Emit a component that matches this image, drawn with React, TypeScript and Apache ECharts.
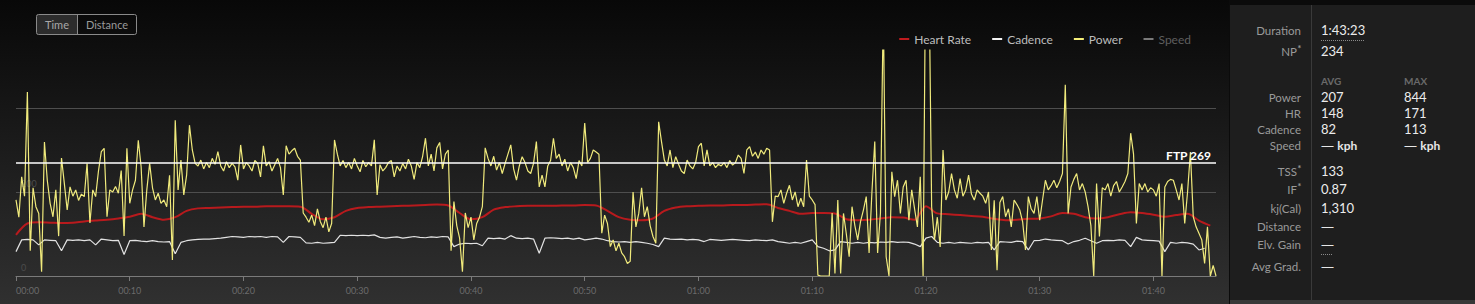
import React, { useEffect, useRef } from 'react';
import * as echarts from 'echarts';

// ---------- data ----------
const POWER_STEP = 0.25; // minutes between power samples
const POWER_W = [
  181,140,236,190, 438,60,210,165, 149,10,319,228, 173,141,205,95, 281,220,157,212,
  190,205,180,195, 189,268,126,205, 189,250,296,304, 141,205,200,213, 197,251,95,304,
  173,205,228,323, 260,117,205,268, 210,181,197,173, 181,165,240,38, 371,205,276,193,
  240,359,300,268, 262,276,255,270, 258,280,266,296, 262,250,272,258, 268,260,228,312,
  255,270,262,250, 275,268,236,310, 262,272,250,265, 280,258,193,310, 290,298,304,285,
  276,150,140,128, 145,120,160,130, 115,140,105,125, 324,290,262,275, 258,270,255,280,
  262,248,275,260, 270,262,324,193, 265,250,258,270, 275,236,262,250, 268,255,278,262,
  230,270,258,285, 328,262,290,250, 305,318,255,290, 300,60,177,120, 90,10,150,115,
  140,86,125,140, 165,305,280,262, 285,252,270,244, 268,290,312,255, 228,262,284,270,
  250,244,268,320, 212,240,212,262, 275,328,280,290, 262,278,250,270, 258,232,275,262,
  364,270,280,300, 295,290,102,145, 125,70,86,60, 78,55,46,30, 35,200,117,149,
  210,141,165,120, 94,78,367,320, 276,262,300,258, 284,266,250,244, 276,262,255,270,
  308,316,262,300, 262,270,258,266, 262,270,258,275, 264,270,288,280, 244,300,308,285,
  295,280,300,290, 304,300,129,190, 189,205,173,197, 216,181,200,165, 185,165,276,190,
  181,170,2,0, 0,0,0,150, 6,181,6,149, 100,46,165,120, 86,130,157,189,
  55,200,320,55, 150,640,46,0, 248,189,228,149, 212,228,133,205, 160,117,236,0,
  844,760,165,86, 140,69,300,181, 200,244,205,185, 232,190,205,240, 195,181,205,197,
  190,173,200,62, 180,14,175,189, 141,160,117,181, 170,157,129,62, 189,160,149,189,
  133,181,228,205, 215,228,210,225, 244,455,149,212, 230,244,205,220, 200,165,120,0,
  220,94,210,205, 220,190,215,225, 200,212,225,244, 340,290,125,220, 205,220,200,210,
  205,190,220,0, 212,225,230,228, 205,181,220,125, 200,295,141,117, 102,86,30,117,
  0,25,0,
];

const HR_STEP = 1;
const HEART_RATE = [
  98,125,128,127,126,127,130,132,134,137,
  141,148,140,134,140,155,161,162,163,164,
  165,165,166,166,166,165,148,135,140,155,
  162,164,165,166,167,168,169,170,168,150,
  135,140,158,164,166,167,167,167,168,168,
  169,168,155,140,134,133,137,155,163,166,
  167,168,168,169,169,170,171,162,155,148,
  150,150,149,135,133,134,137,140,139,134,
  166,149,147,145,143,141,136,133,134,136,
  137,142,150,148,140,137,140,147,152,150,
  146,141,145,148,132,120,
];

const CAD_STEP = 0.5;
const CADENCE = [
  58,86,87,86,74,86,85,84,60,86,
  85,86,84,86,74,88,86,84,85,51,
  84,85,83,82,84,82,81,82,53,80,
  84,86,87,88,88,89,90,92,94,93,
  92,94,93,94,92,94,93,80,94,93,
  92,79,78,80,78,79,80,97,96,97,
  96,97,96,98,92,90,92,93,90,92,
  94,92,91,93,92,94,93,70,76,78,
  77,78,72,90,89,90,88,96,90,89,
  90,88,54,90,91,90,89,90,88,90,
  86,88,90,88,84,82,81,82,80,82,
  80,78,75,70,90,88,87,88,86,87,
  86,82,87,86,85,86,87,86,85,84,
  86,85,84,86,82,80,78,80,78,82,
  86,70,66,60,62,82,80,78,80,78,
  80,79,81,80,82,80,81,80,76,70,
  90,94,80,78,80,78,80,79,78,80,
  79,80,62,82,81,80,83,82,62,84,
  85,88,86,85,84,76,82,85,90,84,
  78,84,85,84,86,85,70,92,86,85,
  84,83,58,80,78,80,79,76,62,66,
];

const FTP = 269;
const X_MAX = 105.5;
const Y_MAX = 538;
const X_TICKS = [0, 10, 20, 30, 40, 50, 60, 70, 80, 90, 100];
const Y_LABELS = [0, 200];
const LEGEND_NAMES = ['Heart Rate', 'Cadence', 'Power', 'Speed'];

const STAT_LABELS = ['Duration', 'NP', 'Power', 'HR', 'Cadence', 'Speed', 'TSS', 'IF', 'kj(Cal)', 'Distance', 'Elv. Gain', 'Avg Grad.'];
const STAT_STARRED = [false, true, false, false, false, false, true, true, false, false, false, false];
const STAT_AVG = ['1:43:23', '234', '207', '148', '82', '{d|—} {b|kph}', '133', '0.87', '1,310', '{d|—}', '{d|—}', '{d|—}'];
const STAT_MAX = ['', '', '844', '171', '113', '{d|—} {b|kph}', '', '', '', '', '', ''];
const STAT_HEAD = ['AVG', 'MAX'];
const TOGGLE = ['Time', 'Distance'];

// ---------- layout (not data) ----------
const ROW_Y = [30, 51, 97, 113, 129, 145, 171, 189, 208, 226, 244, 266];
const FONT = 'Lato, "Open Sans", sans-serif';

function fmtTime(m: number) {
  const h = Math.floor(m / 60);
  const mm = Math.round(m % 60);
  return String(h).padStart(2, '0') + ':' + String(mm).padStart(2, '0');
}

function txt(x: number, y: number, text: string, o: any = {}) {
  const align = o.align || 'left';
  return {
    type: 'text',
    x,
    y,
    z: 100,
    silent: true,
    style: {
      text,
      fill: o.fill || '#e6e6e6',
      fontSize: o.size || 12,
      fontFamily: FONT,
      fontWeight: o.weight || 'normal',
      textAlign: align,
      align,
      textVerticalAlign: 'middle',
      verticalAlign: 'middle',
      rich: o.rich,
    },
  };
}

export default function App() {
  const ref = useRef<HTMLDivElement>(null);

  useEffect(() => {
    const chart = echarts.init(ref.current!, null, { renderer: 'svg' });

    const powerData = POWER_W.map((v, i) => [i * POWER_STEP, v]);
    const hrData = HEART_RATE.map((v, i) => [i * HR_STEP, v]);
    const cadData = CADENCE.map((v, i) => [i * CAD_STEP, v]);

    const elements: any[] = [];
    // backgrounds
    elements.push({ type: 'rect', z: -10, silent: true, shape: { x: 0, y: 0, width: 1475, height: 304 }, style: { fill: '#0b0b0b' } });
    elements.push({
      type: 'rect', z: -9, silent: true,
      shape: { x: 0, y: 0, width: 1229, height: 304 },
      style: {
        fill: { type: 'linear', x: 0, y: 0, x2: 0, y2: 1, colorStops: [
          { offset: 0, color: '#080808' },
          { offset: 1, color: '#303030' },
        ] },
      },
    });
    elements.push({ type: 'rect', z: -9, silent: true, shape: { x: 1230, y: 5, width: 245, height: 296 }, style: { fill: '#1e1e1e' } });
    elements.push({ type: 'rect', z: -9, silent: true, shape: { x: 1230, y: 300, width: 245, height: 4 }, style: { fill: '#383838' } });
    elements.push({ type: 'line', z: -8, silent: true, shape: { x1: 1311.5, y1: 5, x2: 1311.5, y2: 300 }, style: { stroke: '#3a3a3a', lineWidth: 1 } });

    // Time / Distance toggle
    elements.push({ type: 'rect', z: 50, silent: true, shape: { x: 36.5, y: 14.5, width: 41, height: 20 }, style: { fill: '#2c2c2c' } });
    elements.push({ type: 'rect', z: 51, silent: true, shape: { x: 36.5, y: 14.5, width: 100, height: 20, r: 2 }, style: { fill: 'none', stroke: '#8a8a8a', lineWidth: 1 } });
    elements.push({ type: 'line', z: 51, silent: true, shape: { x1: 77.5, y1: 14.5, x2: 77.5, y2: 34.5 }, style: { stroke: '#8a8a8a', lineWidth: 1 } });
    elements.push(txt(57, 24.5, TOGGLE[0], { fill: '#a8a8a8', size: 11, align: 'center' }));
    elements.push(txt(107, 24.5, TOGGLE[1], { fill: '#9a9a9a', size: 11, align: 'center' }));

    // stats panel
    const rich = {
      b: { fontWeight: 'bold', fontSize: 12, fontFamily: FONT, fill: '#e6e6e6', color: '#e6e6e6' },
      d: { fontSize: 13, fontFamily: '"Open Sans", sans-serif', fill: '#e6e6e6', color: '#e6e6e6' },
    };
    STAT_LABELS.forEach((lab, i) => {
      const y = ROW_Y[i];
      if (STAT_STARRED[i]) {
        elements.push(txt(1297, y, lab, { fill: '#9a9a9a', size: 11.5, align: 'right' }));
        elements.push(txt(1297.5, y - 3, '*', { fill: '#9a9a9a', size: 9, weight: 'bold' }));
      } else {
        elements.push(txt(1301, y, lab, { fill: '#9a9a9a', size: 11.5, align: 'right' }));
      }
      elements.push(txt(1321, y, STAT_AVG[i], { fill: '#ececec', size: 13, rich }));
      if (STAT_MAX[i]) elements.push(txt(1404, y, STAT_MAX[i], { fill: '#ececec', size: 13, rich }));
    });
    elements.push(txt(1321, 81, STAT_HEAD[0], { fill: '#6a6a6a', size: 10, weight: 'bold' }));
    elements.push(txt(1404, 81, STAT_HEAD[1], { fill: '#6a6a6a', size: 10, weight: 'bold' }));
    elements.push({ type: 'line', z: 60, silent: true, shape: { x1: 1321, y1: 40.5, x2: 1365, y2: 40.5 }, style: { stroke: '#8a8a8a', lineWidth: 1, lineDash: [1, 1] } });
    elements.push({ type: 'line', z: 60, silent: true, shape: { x1: 1321, y1: 254.5, x2: 1332, y2: 254.5 }, style: { stroke: '#8a8a8a', lineWidth: 1, lineDash: [1, 1] } });

    const option: any = {
      animation: false,
      backgroundColor: '#0b0b0b',
      textStyle: { fontFamily: FONT },
      graphic: { elements },
      legend: {
        data: [
          { name: LEGEND_NAMES[0] },
          { name: LEGEND_NAMES[1] },
          { name: LEGEND_NAMES[2] },
          { name: LEGEND_NAMES[3], textStyle: { color: '#5e5e5e' } },
        ],
        selectedMode: false,
        right: 279,
        top: 28,
        icon: 'rect',
        itemWidth: 10,
        itemHeight: 2,
        itemGap: 21,
        textStyle: { color: '#bdbdbd', fontSize: 12, fontFamily: FONT },
      },
      grid: { left: 16, top: 50, width: 1200, height: 226, containLabel: false },
      xAxis: {
        type: 'value',
        min: 0,
        max: X_MAX,
        interval: 10,
        axisLine: { show: true, lineStyle: { color: '#7a7a7a', width: 1 } },
        axisTick: { show: true, length: 5, lineStyle: { color: '#7a7a7a' }, customValues: X_TICKS },
        axisLabel: {
          color: '#6b6b6b', fontSize: 9, fontFamily: FONT, margin: 10,
          customValues: X_TICKS, alignMinLabel: 'left',
          formatter: (v: number) => fmtTime(v),
        },
        splitLine: { show: false },
      },
      yAxis: {
        type: 'value',
        min: 0,
        max: Y_MAX,
        interval: 200,
        axisLine: { show: false },
        axisTick: { show: false },
        axisLabel: {
          inside: true, margin: 5, color: '#4c4c4c', fontSize: 9, fontFamily: FONT,
          verticalAlign: 'bottom', padding: [0, 0, 4, 0], customValues: Y_LABELS,
        },
        splitLine: { show: true, showMaxLine: false, lineStyle: { color: '#4e4e4e', width: 1 } },
      },
      series: [
        {
          name: LEGEND_NAMES[0], type: 'line', data: hrData, symbol: 'none', showSymbol: false,
          smooth: 0.3, z: 2, color: '#c01b1e',
          lineStyle: { color: '#b81a1d', width: 2 },
        },
        {
          name: LEGEND_NAMES[1], type: 'line', data: cadData, symbol: 'none', showSymbol: false,
          z: 3, color: '#f2f2f2',
          lineStyle: { color: '#e2e2e2', width: 1.2 },
        },
        {
          name: LEGEND_NAMES[2], type: 'line', data: powerData, symbol: 'none', showSymbol: false,
          z: 4, color: '#f4ee78', clip: true,
          lineStyle: { color: '#f0ea7c', width: 1.2 },
          markLine: {
            silent: true,
            symbol: ['none', 'none'],
            data: [{ yAxis: FTP }],
            lineStyle: { color: '#ffffff', width: 1.5, type: 'solid' },
            label: {
              show: true, position: 'insideEndTop', formatter: 'FTP ' + FTP,
              color: '#ffffff', fontWeight: 'bold', fontSize: 12, fontFamily: FONT, distance: [5, 2],
            },
          },
        },
        {
          name: LEGEND_NAMES[3], type: 'line', data: [], symbol: 'none', showSymbol: false,
          color: '#7a7a7a', lineStyle: { color: '#7a7a7a', width: 1.2 },
        },
      ],
    };

    chart.setOption(option);
    return () => chart.dispose();
  }, []);

  return <div ref={ref} style={{ position: 'absolute', left: 0, top: 0, width: 1475, height: 304 }} />;
}
